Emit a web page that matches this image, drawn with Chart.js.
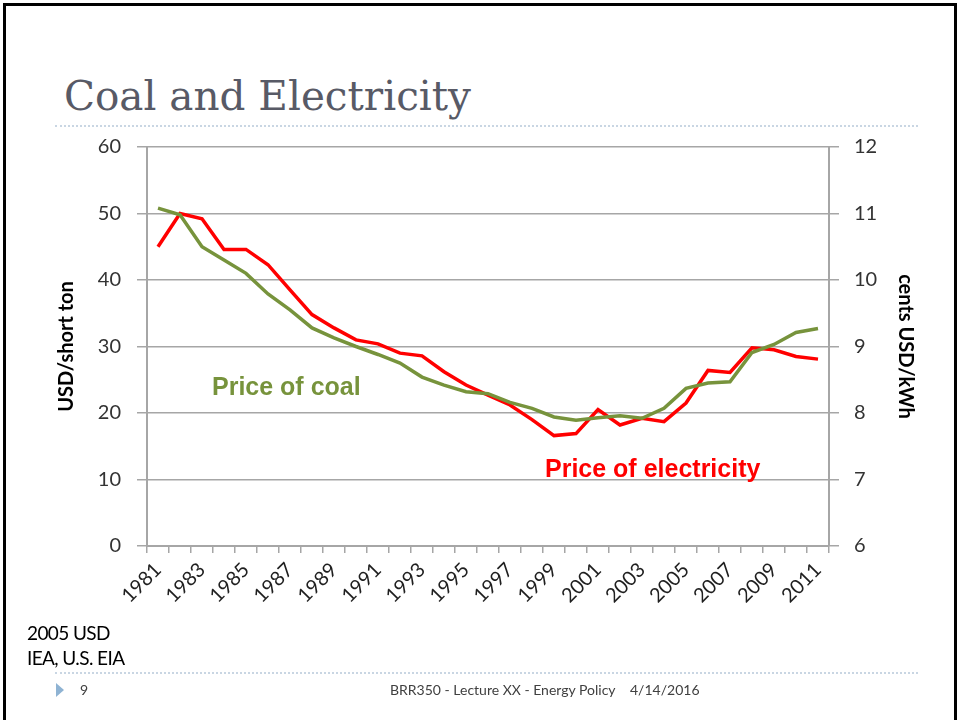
<!DOCTYPE html>
<html>
<head>
<meta charset="utf-8">
<script src="https://cdn.jsdelivr.net/npm/chart.js@4.4.1/dist/chart.umd.min.js"></script>
<style>
  html, body { margin: 0; padding: 0; background: #fff; }
  #slide { position: relative; width: 957px; height: 720px; overflow: hidden; }
  #frame { position: absolute; left: 3px; top: 3px; width: 948px; height: 730px;
    border: 3px solid #000; }
  #chartBox { position: absolute; left: 0; top: 0; width: 957px; height: 720px; }
  .txt { position: absolute; white-space: nowrap; }
  #title { left: 64px; top: 76px; font: 40.5px "DejaVu Serif", serif; line-height: 40px; color: #585a66; }
  .rule { position: absolute; left: 55px; width: 863px; height: 0;
    border-top: 2px dotted #c9d6e3; }
  #coalLbl { left: 212px; top: 372px; font: bold 25px "Liberation Sans", Arial, sans-serif; color: #77933c; }
  #elecLbl { left: 545px; top: 454px; font: bold 25px "Liberation Sans", Arial, sans-serif; color: #ff0000; }
  .note { left: 27px; font: 19px Lato, sans-serif; color: #000; letter-spacing: -0.6px; }
  .foot { top: 681px; font: 14px Lato, sans-serif; color: #404040; }
  #tri { position: absolute; left: 56px; top: 683px; width: 0; height: 0;
    border-top: 7px solid transparent; border-bottom: 7px solid transparent;
    border-left: 8px solid #8fb3d3; }
</style>
</head>
<body>
<div id="slide">
  <div id="frame"></div>
  <div class="txt" id="title">Coal and Electricity</div>
  <div class="rule" style="top:125px"></div>
  <div id="chartBox"><canvas id="lineChart" width="957" height="720"></canvas></div>
  <div class="txt" id="coalLbl">Price of coal</div>
  <div class="txt" id="elecLbl">Price of electricity</div>
  <div class="txt note" style="top:621px">2005 USD</div>
  <div class="txt note" style="top:646px">IEA, U.S. EIA</div>
  <div class="rule" style="top:672px"></div>
  <div id="tri"></div>
  <div class="txt foot" style="left:80px">9</div>
  <div class="txt foot" style="left:390px">BRR350 - Lecture XX - Energy Policy</div>
  <div class="txt foot" style="left:630px">4/14/2016</div>
</div>

<script>
const years = [
  "1981", "1982", "1983", "1984", "1985", "1986", "1987", "1988", "1989", "1990",
  "1991", "1992", "1993", "1994", "1995", "1996", "1997", "1998", "1999", "2000",
  "2001", "2002", "2003", "2004", "2005", "2006", "2007", "2008", "2009", "2010", "2011",
];

// USD per short ton (left axis)
const coalPrice = [
  50.8, 49.8, 45.0, 43.0, 41.0, 37.9, 35.5, 32.8, 31.3, 30.0,
  28.8, 27.5, 25.4, 24.2, 23.2, 22.9, 21.6, 20.7, 19.4, 18.9,
  19.3, 19.6, 19.2, 20.7, 23.7, 24.5, 24.7, 29.1, 30.3, 32.1, 32.7,
];

// cents USD per kWh (right axis)
const electricityPrice = [
  10.5, 11.0, 10.92, 10.46, 10.46, 10.23, 9.85, 9.48, 9.28, 9.1,
  9.04, 8.9, 8.86, 8.62, 8.42, 8.27, 8.12, 7.9, 7.66, 7.69,
  8.05, 7.82, 7.92, 7.87, 8.15, 8.64, 8.61, 8.98, 8.95, 8.85, 8.81,
];

const coalTicks = { min: 0, max: 60, step: 10 };
const elecTicks = { min: 6, max: 12, step: 1 };

const gridGrey = "#a6a6a6";
const tickFont = { family: "Lato, sans-serif", size: 20 };
const titleFont = { family: "Lato, sans-serif", size: 20, weight: "bold" };

const lineCtx = document.getElementById("lineChart");

new Chart(lineCtx, {
  type: "line",
  data: {
    labels: years,
    datasets: [
      {
        label: "Price of coal",
        data: coalPrice,
        borderColor: "#77933c",
        borderWidth: 3.5,
        pointRadius: 0,
        tension: 0,
        yAxisID: "y",
      },
      {
        label: "Price of electricity",
        data: electricityPrice,
        borderColor: "#ff0000",
        borderWidth: 3.5,
        pointRadius: 0,
        tension: 0,
        yAxisID: "y1",
      },
    ],
  },
  options: {
    responsive: false,
    animation: false,
    layout: { padding: { top: 147, left: 0, right: 0, bottom: 0 } },
    plugins: {
      legend: { display: false },
      tooltip: { enabled: false },
    },
    scales: {
      x: {
        offset: true,
        grid: {
          offset: true,
          drawOnChartArea: false,
          color: gridGrey,
          lineWidth: 1.5,
          tickLength: 7,
        },
        border: { color: gridGrey, width: 2 },
        ticks: {
          autoSkip: false,
          minRotation: 45,
          maxRotation: 45,
          padding: 5,
          color: "#1f1f1f",
          font: tickFont,
          callback: function (val, i) {
            return i % 2 === 0 ? years[i] : "";
          },
        },
        afterFit: function (scale) {
          scale.height = 174;
        },
      },
      y: {
        position: "left",
        min: coalTicks.min,
        max: coalTicks.max,
        grid: { color: gridGrey, lineWidth: 1.5, tickLength: 10 },
        border: { color: gridGrey, width: 2 },
        ticks: { stepSize: coalTicks.step, padding: 16, color: "#333", font: tickFont },
        title: {
          display: true,
          text: "USD/short ton",
          color: "#000",
          font: titleFont,
          padding: { top: 55, bottom: 0 },
        },
        afterFit: function (scale) {
          scale.width = 147;
        },
      },
      y1: {
        position: "right",
        min: elecTicks.min,
        max: elecTicks.max,
        grid: { drawOnChartArea: false, color: gridGrey, lineWidth: 1.5, tickLength: 10 },
        border: { color: gridGrey, width: 2 },
        ticks: { stepSize: elecTicks.step, padding: 15, color: "#333", font: tickFont },
        title: {
          display: true,
          text: "cents USD/kWh",
          color: "#000",
          font: titleFont,
          padding: { top: 40, bottom: 0 },
        },
        afterFit: function (scale) {
          scale.width = 128;
        },
      },
    },
  },
});
</script>
</body>
</html>
